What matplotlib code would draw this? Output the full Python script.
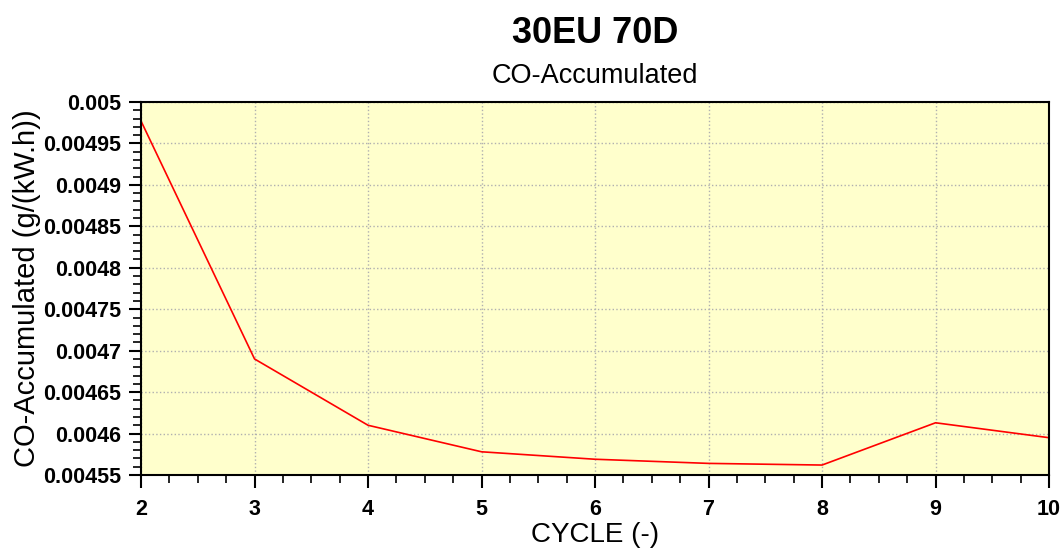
import matplotlib
matplotlib.use("Agg")
import matplotlib.pyplot as plt
import numpy as np
from matplotlib.ticker import MultipleLocator, FormatStrFormatter

plt.rcParams['font.family'] = ['Liberation Sans', 'DejaVu Sans']

cycles = [2, 3, 4, 5, 6, 7, 8, 9, 10]
co_accumulated = [0.004977, 0.004690, 0.004610, 0.004578, 0.004569, 0.004564, 0.004562, 0.004613, 0.004595]

fig = plt.figure(figsize=(10.62, 5.52), dpi=100)
ax = fig.add_axes([0.1328, 0.1395, 0.855, 0.6757])
ax.set_facecolor('#ffffcc')

ax.plot(cycles, co_accumulated, color='red', linewidth=1.2)

ax.set_xlim(2, 10)
ax.set_ylim(0.00455, 0.005)
ax.xaxis.set_major_locator(MultipleLocator(1))
ax.xaxis.set_minor_locator(MultipleLocator(0.25))
ax.yaxis.set_major_locator(MultipleLocator(0.00005))
ax.yaxis.set_minor_locator(MultipleLocator(0.00001))

def fmt(v, pos):
    s = ('%.6f' % v).rstrip('0').rstrip('.')
    return s
ax.yaxis.set_major_formatter(plt.FuncFormatter(fmt))

ax.grid(True, which='major', linestyle=':', color='#b0b0b0', linewidth=1)
ax.tick_params(which='major', length=9, width=1.5, labelsize=15.5)
ax.tick_params(axis='y', which='major', pad=5)
ax.tick_params(axis='x', which='major', pad=8)
ax.tick_params(which='minor', length=6, width=1.2)
for lbl in ax.get_xticklabels() + ax.get_yticklabels():
    lbl.set_fontweight('bold')
for sp in ax.spines.values():
    sp.set_linewidth(1.5)

ax.set_xlabel('CYCLE (-)', fontsize=20, labelpad=2)
ax.set_ylabel('CO-Accumulated (g/(kW.h))', fontsize=21, labelpad=2)

fig.text(0.56, 0.94, '30EU 70D', ha='center', va='center', fontsize=26, fontweight='bold')
fig.text(0.56, 0.862, 'CO-Accumulated', ha='center', va='center', fontsize=19.5)

fig.savefig('out.png', dpi=100)
